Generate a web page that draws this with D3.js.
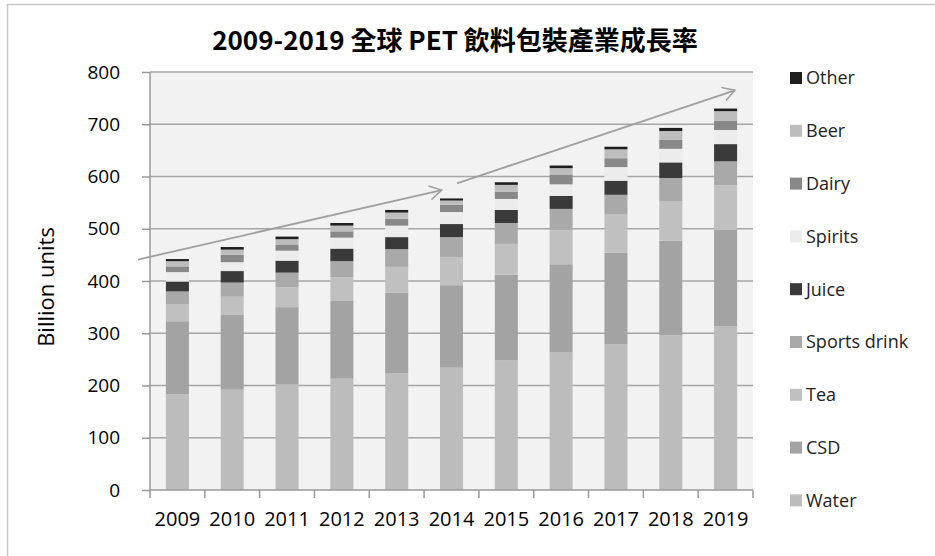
<!DOCTYPE html>
<html>
<head>
<meta charset="utf-8">
<script src="https://cdn.jsdelivr.net/npm/d3@7"></script>
<style>
  body { margin: 0; background: #fff; }
  svg { display: block; }
</style>
</head>
<body>
<svg id="chart"></svg>
<script>
// years on the x axis
var years = ["2009", "2010", "2011", "2012", "2013", "2014", "2015", "2016", "2017", "2018", "2019"];

// beverage series, bottom to top of each stack (billion units)
var water   = [183, 192, 202, 213, 224, 234, 248, 264, 279, 296, 313];
var csd     = [140, 143, 148, 150, 153, 158, 164, 168, 175, 181, 185];
var tea     = [32, 35, 38, 44, 50, 54, 59, 65, 73, 75, 85];
var sports  = [25, 27, 28, 31, 34, 38, 40, 41, 38, 45, 46];
var juice   = [19, 22, 23, 24, 23, 25, 25, 25, 27, 30, 33];
var spirits = [18, 17, 19, 21, 22, 23, 21, 22, 26, 26, 27];
var dairy   = [11, 14, 12, 12, 13, 14, 14, 19, 17, 17, 18];
var beer    = [10, 10, 10, 11, 12, 8, 13, 12, 17, 17, 18];
var other   = [4, 5, 5, 5, 5, 4, 5, 5, 5, 6, 5];

var seriesNames = ["Water", "CSD", "Tea", "Sports drink", "Juice", "Spirits", "Dairy", "Beer", "Other"];
var seriesVals = [water, csd, tea, sports, juice, spirits, dairy, beer, other];
var seriesColors = ["#bcbcbc", "#a3a3a3", "#c0c0c0", "#a9a9a9", "#3a3a3a", "#ececec", "#888888", "#bdbdbd", "#1e1e1e"];

var yTicks = [0, 100, 200, 300, 400, 500, 600, 700, 800];

// trend arrows: [category index, value] start and end
var arrows = [
  [[-0.72, 441], [4.82, 574]],
  [[5.10, 587], [10.17, 765]]
];

var svgWidth = 935, svgHeight = 556;
var margin = { top: 72, left: 150, right: 182, bottom: 66 };
var width = svgWidth - margin.left - margin.right;
var height = svgHeight - margin.top - margin.bottom;
var font = "'Open Sans', 'Noto Sans', sans-serif";

var svg = d3.select("#chart")
    .attr("width", svgWidth)
    .attr("height", svgHeight);

// outer frame of the chart
svg.append("rect")
    .attr("x", 7.5).attr("y", 4.5)
    .attr("width", svgWidth + 10).attr("height", svgHeight + 10)
    .attr("fill", "#fff")
    .attr("stroke", "#c8c8c8")
    .attr("stroke-width", 1.5);

svg.append("text")
    .attr("x", 455).attr("y", 50)
    .attr("text-anchor", "middle")
    .style("font-family", "'Noto Sans CJK TC', 'Noto Sans', sans-serif")
    .style("font-weight", "bold")
    .style("font-size", "26px")
    .attr("fill", "#000")
    .text("2009-2019 全球 PET 飲料包裝產業成長率");

var g = svg.append("g")
    .attr("transform", "translate(" + margin.left + "," + margin.top + ")");

var x = d3.scaleBand().domain(years).range([0, width]).paddingInner(0.58).paddingOuter(0.29);
var xi = d3.scaleLinear().domain([-0.5, years.length - 0.5]).range([0, width]); // index space for arrows
var y = d3.scaleLinear().domain([0, 800]).range([height, 0]);

// plot background
g.append("rect")
    .attr("width", width).attr("height", height)
    .attr("fill", "#f2f2f2");

// gridlines
g.append("g")
    .selectAll("line")
    .data(yTicks.slice(1))
    .join("line")
    .attr("x1", 0).attr("x2", width)
    .attr("y1", function(d) { return y(d); })
    .attr("y2", function(d) { return y(d); })
    .attr("stroke", "#a6a6a6")
    .attr("stroke-width", 1.5);

// stack data
var table = years.map(function(yr, i) {
  var row = { year: yr };
  seriesNames.forEach(function(n, k) { row[n] = seriesVals[k][i]; });
  return row;
});
var stacked = d3.stack().keys(seriesNames)(table);

g.append("g")
    .selectAll("g")
    .data(stacked)
    .join("g")
    .attr("fill", function(d, i) { return seriesColors[i]; })
    .selectAll("rect")
    .data(function(d) { return d; })
    .join("rect")
    .attr("x", function(d) { return x(d.data.year); })
    .attr("width", x.bandwidth())
    .attr("y", function(d) { return y(d[1]); })
    .attr("height", function(d) { return y(d[0]) - y(d[1]); });

// y axis
var yAxis = g.append("g")
    .call(d3.axisLeft(y).tickValues(yTicks).tickSize(8).tickPadding(22));
yAxis.select(".domain").attr("stroke", "#999").attr("stroke-width", 1.5).attr("d", "M0," + height + "V0");
yAxis.selectAll(".tick line").attr("stroke", "#999").attr("stroke-width", 1.5);
yAxis.selectAll("text")
    .style("font-family", font)
    .style("font-size", "19px")
    .attr("fill", "#000");

// x axis with ticks between categories
var xAxis = g.append("g")
    .attr("transform", "translate(0," + height + ")")
    .call(d3.axisBottom(x).tickSize(0).tickPadding(22));
xAxis.select(".domain").attr("stroke", "#999").attr("stroke-width", 1.5).attr("d", "M0,0H" + width);
xAxis.selectAll("text")
    .style("font-family", font)
    .style("font-size", "20px")
    .attr("fill", "#000");
xAxis.append("g")
    .selectAll("line")
    .data(d3.range(years.length + 1))
    .join("line")
    .attr("x1", function(d) { return xi(d - 0.5); })
    .attr("x2", function(d) { return xi(d - 0.5); })
    .attr("y1", 0).attr("y2", 8)
    .attr("stroke", "#999")
    .attr("stroke-width", 1.5);

// axis title
svg.append("text")
    .attr("transform", "translate(54," + (margin.top + height / 2 + 6) + ") rotate(-90)")
    .attr("text-anchor", "middle")
    .style("font-family", font)
    .style("font-size", "22px")
    .attr("fill", "#000")
    .text("Billion units");

// trend arrows
svg.append("defs").append("marker")
    .attr("id", "head")
    .attr("viewBox", "-12 -8 14 16")
    .attr("markerWidth", 14).attr("markerHeight", 16)
    .attr("markerUnits", "userSpaceOnUse")
    .attr("refX", 0).attr("refY", 0)
    .attr("orient", "auto")
    .append("path")
    .attr("d", "M-12,-7L0,0L-12,7")
    .attr("fill", "none")
    .attr("stroke", "#a0a0a0")
    .attr("stroke-width", 1.6);

g.append("g")
    .selectAll("line")
    .data(arrows)
    .join("line")
    .attr("x1", function(d) { return xi(d[0][0]); })
    .attr("y1", function(d) { return y(d[0][1]); })
    .attr("x2", function(d) { return xi(d[1][0]); })
    .attr("y2", function(d) { return y(d[1][1]); })
    .attr("stroke", "#a0a0a0")
    .attr("stroke-width", 1.8)
    .attr("marker-end", "url(#head)");

// legend, top entry is last series
var legend = svg.append("g")
    .selectAll("g")
    .data(seriesNames.slice().reverse())
    .join("g")
    .attr("transform", function(d, i) { return "translate(790," + (78 + i * 52.8) + ")"; });
legend.append("rect")
    .attr("y", -6).attr("width", 12).attr("height", 12)
    .attr("fill", function(d) { return seriesColors[seriesNames.indexOf(d)]; });
legend.append("text")
    .attr("x", 16).attr("dy", "0.35em")
    .style("font-family", font)
    .style("font-size", "18px")
    .attr("fill", "#222")
    .text(function(d) { return d; });
</script>
</body>
</html>
